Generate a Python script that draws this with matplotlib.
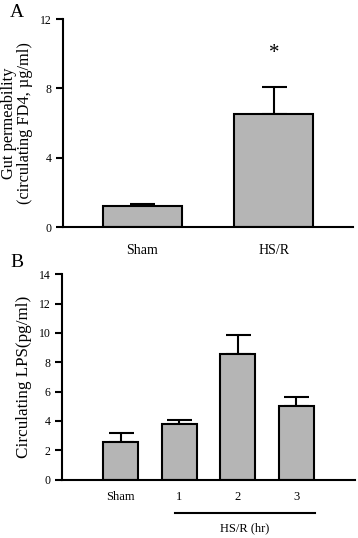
import matplotlib.pyplot as plt

plt.rcParams['font.family'] = ['Liberation Serif', 'DejaVu Serif']

# panel A: gut permeability
a_labels = ['Sham', 'HS/R']
a_values = [1.2, 6.5]
a_errors = [0.15, 1.6]

# panel B: circulating LPS
b_labels = ['Sham', '1', '2', '3']
b_values = [2.6, 3.8, 8.6, 5.0]
b_errors = [0.55, 0.25, 1.25, 0.65]

bar_color = '#b5b5b5'


def style_axes(ax):
    for side in ('top', 'right'):
        ax.spines[side].set_visible(False)
    for side in ('left', 'bottom'):
        ax.spines[side].set_linewidth(1.5)
    ax.tick_params(axis='y', direction='out', length=5, width=1.5,
                   labelsize=8.5, pad=3)
    ax.tick_params(axis='x', length=0)


def draw_bars(ax, values, errors):
    x = range(len(values))
    ax.bar(x, values, width=0.6, color=bar_color, edgecolor='black',
           linewidth=1.5, zorder=2)
    ax.errorbar(x, values, yerr=[[0] * len(errors), errors], fmt='none',
                ecolor='black', elinewidth=1.5, capsize=9, capthick=1.5,
                zorder=1)


fig = plt.figure(figsize=(3.58, 5.38), dpi=100)

ax_a = fig.add_axes([0.176, 0.578, 0.810, 0.3866])
draw_bars(ax_a, a_values, a_errors)
style_axes(ax_a)
ax_a.set_xlim(-0.6, 1.6)
ax_a.set_ylim(0, 12)
ax_a.set_yticks([0, 4, 8, 12])
ax_a.set_xticks(range(len(a_labels)))
ax_a.set_xticklabels(a_labels, fontsize=10)
ax_a.tick_params(axis='x', pad=12)
ax_a.set_ylabel('Gut permeability\n(circulating FD4, µg/ml)', fontsize=11.8,
                linespacing=1.0, labelpad=5)
ax_a.text(1, 10.0, '*', ha='center', va='center', fontsize=15)
fig.text(0.028, 0.992, 'A', fontsize=14, va='top', ha='left')

ax_b = fig.add_axes([0.173, 0.1084, 0.818, 0.3818])
draw_bars(ax_b, b_values, b_errors)
style_axes(ax_b)
ax_b.set_xlim(-1, 4)
ax_b.set_ylim(0, 14)
ax_b.set_yticks(range(0, 15, 2))
ax_b.set_xticks(range(len(b_labels)))
ax_b.set_xticklabels(b_labels, fontsize=9)
ax_b.tick_params(axis='x', pad=8)
ax_b.set_ylabel('Circulating LPS(pg/ml)', fontsize=12.3, labelpad=5)
fig.text(0.028, 0.527, 'B', fontsize=14, va='top', ha='left')

# bracket under the HS/R time points
trans = ax_b.get_xaxis_transform()
ax_b.plot([0.93, 3.32], [-0.161, -0.161], color='black', linewidth=1.5,
          transform=trans, clip_on=False)
ax_b.text(2.125, -0.235, 'HS/R (hr)', transform=trans, ha='center',
          va='center', fontsize=9)

fig.savefig('out.png', dpi=100)
